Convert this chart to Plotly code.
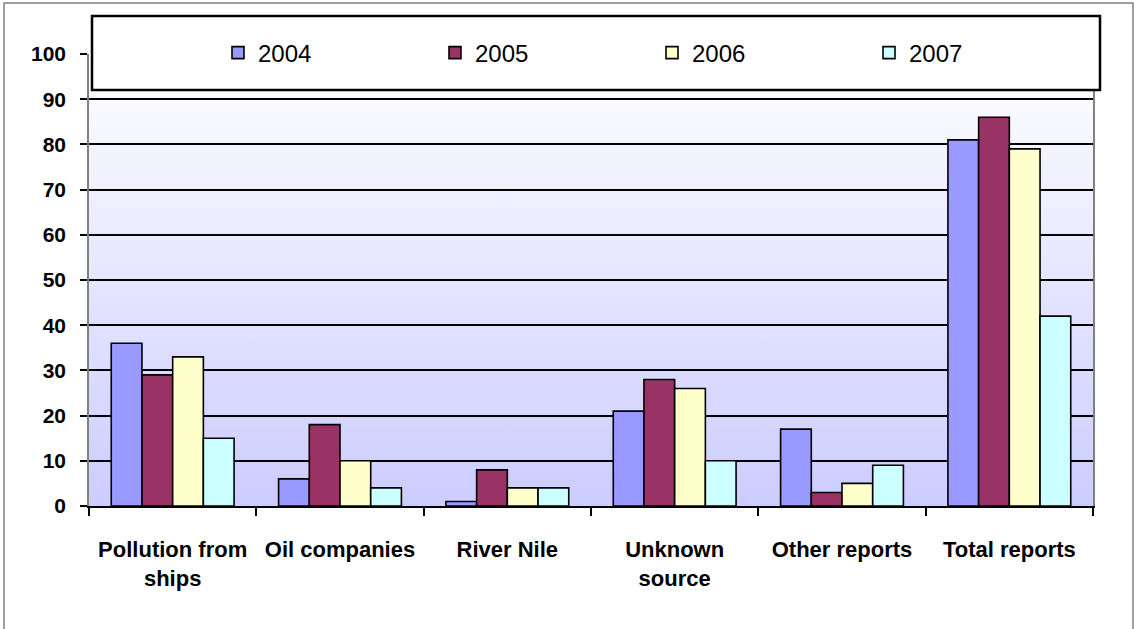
import base64
import plotly.graph_objects as go

categories = ["Pollution from<br>ships", "Oil companies", "River Nile", "Unknown<br>source",
              "Other reports", "Total reports"]
years = ["2004", "2005", "2006", "2007"]
v2004 = [36, 6, 1, 21, 17, 81]
v2005 = [29, 18, 8, 28, 3, 86]
v2006 = [33, 10, 4, 26, 5, 79]
v2007 = [15, 4, 4, 10, 9, 42]
series = [v2004, v2005, v2006, v2007]
colors = ["#9999FF", "#993366", "#FFFFCC", "#CCFFFF"]
y_ticks = [0, 10, 20, 30, 40, 50, 60, 70, 80, 90, 100]

W, H = 1134, 629
L, R, T, B = 89, 1093, 54, 506


def px(x):
    return (x - L) / (R - L)


def py(y):
    return (B - y) / (B - T)


fig = go.Figure()
for name, vals, col in zip(years, series, colors):
    fig.add_trace(go.Bar(
        x=categories, y=vals, name=name,
        marker=dict(color=col, line=dict(color="black", width=1.6)),
    ))

svg = ('<svg xmlns="http://www.w3.org/2000/svg" width="100" height="100" preserveAspectRatio="none">'
       '<defs><linearGradient id="g" x1="0" y1="0" x2="0" y2="1">'
       '<stop offset="0" stop-color="#FFFFFF"/><stop offset="1" stop-color="#CCCCFF"/>'
       '</linearGradient></defs><rect width="100" height="100" fill="url(#g)"/></svg>')
uri = "data:image/svg+xml;base64," + base64.b64encode(svg.encode()).decode()

fig.update_layout(
    width=W, height=H,
    margin=dict(l=L, r=W - R, t=T, b=H - B, pad=0, autoexpand=False),
    paper_bgcolor="white",
    plot_bgcolor="rgba(0,0,0,0)",
    barmode="group",
    bargap=0.266,
    bargroupgap=0,
    font=dict(family="Liberation Sans, Arial, sans-serif", color="black"),
    images=[dict(source=uri, xref="paper", yref="paper", x=0, y=1, sizex=1, sizey=1,
                 sizing="stretch", layer="below", xanchor="left", yanchor="top")],
    legend=dict(
        orientation="h", x=px(218), xanchor="left", y=py(53), yanchor="middle",
        bgcolor="rgba(0,0,0,0)", borderwidth=0,
        font=dict(size=24, family="Liberation Sans, Arial, sans-serif"),
        entrywidth=172, entrywidthmode="pixels", traceorder="normal",
    ),
    shapes=[
        dict(type="rect", xref="paper", yref="paper", x0=px(4), x1=px(1133), y0=py(640), y1=py(3),
             line=dict(color="#808080", width=1.5), fillcolor="rgba(0,0,0,0)", layer="above"),
        dict(type="rect", xref="paper", yref="paper", x0=px(92), x1=px(1100), y0=py(90), y1=py(16),
             line=dict(color="black", width=2.5), fillcolor="white", layer="above"),
    ],
)
fig.update_yaxes(
    range=[0, 100], tickvals=y_ticks, showgrid=True, gridcolor="black", gridwidth=1.5,
    zeroline=False, showline=True, linecolor="#808080", linewidth=1.5, mirror=True,
    ticks="outside", ticklen=7, tickwidth=1.5, tickcolor="black", ticklabelstandoff=10,
    tickfont=dict(size=21, family="Liberation Sans, Arial, sans-serif", weight="bold"),
)
fig.update_xaxes(
    type="category", tickson="boundaries", ticks="outside", ticklen=8, tickwidth=1.5,
    tickcolor="black", showline=True, linecolor="black", linewidth=2, showgrid=False,
    ticklabelstandoff=23,
    tickfont=dict(size=22, family="Liberation Sans, Arial, sans-serif", weight="bold"),
)
fig.write_html("out.html", config={"displayModeBar": False},
               post_script="document.body.style.margin='0';document.body.style.overflow='hidden';")
